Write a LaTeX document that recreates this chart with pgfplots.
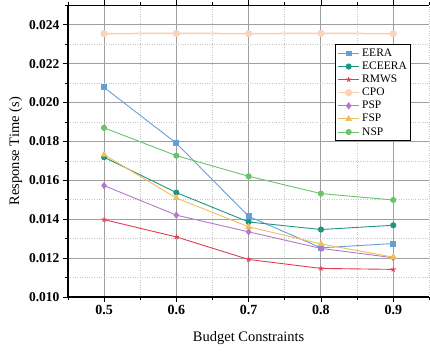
\documentclass[border=0pt]{standalone}
\usepackage{pgfplots}
\pgfplotsset{compat=1.18}
\usepackage{fontspec}
\setmainfont{Liberation Serif}
\definecolor{cEERA}{RGB}{100,160,215}
\definecolor{cECE}{RGB}{30,150,130}
\definecolor{cRM}{RGB}{225,60,85}
\definecolor{cCPO}{RGB}{252,204,176}
\definecolor{cCPOm}{RGB}{253,210,185}
\definecolor{cPSP}{RGB}{180,120,200}
\definecolor{cFSP}{RGB}{240,190,90}
\definecolor{cNSP}{RGB}{105,195,105}
\begin{document}
\begin{tikzpicture}
\begin{axis}[
  name=ax,
  scale only axis, width=362pt, height=292pt,
  xmin=0.45, xmax=0.95, ymin=0.010, ymax=0.025,
  xtick={0.5,0.6,0.7,0.8,0.9},
  minor xtick={0.45,0.55,0.65,0.75,0.85,0.95},
  ytick={0.010,0.012,0.014,0.016,0.018,0.020,0.022,0.024},
  minor ytick={0.011,0.013,0.015,0.017,0.019,0.021,0.023,0.025},
  axis x line*=box, axis y line*=left,
  tick align=outside,
  major tick length=5pt, minor tick length=3pt,
  every tick/.style={black, line width=0.8pt},
  axis line style={line width=1.2pt, -},
  grid=both,
  major grid style={gray!75, line width=1pt},
  minor grid style={gray!45, dotted, line width=0.7pt},
  /pgf/number format/assume math mode=true,
  xticklabel style={font=\fontsize{14}{14}\selectfont\bfseries, /pgf/number format/.cd, fixed, precision=1},
  yticklabel style={font=\fontsize{13.5}{13.5}\selectfont\bfseries, /pgf/number format/.cd, fixed, fixed zerofill, precision=3},
  scaled y ticks=false,
  xlabel={Budget Constraints}, ylabel={Response Time (s)},
  label style={font=\fontsize{14.5}{14.5}\selectfont},
  xlabel style={yshift=-10pt},
  legend style={at={(0.95,0.866)}, anchor=north east, draw=black, line width=0.9pt, font=\fontsize{11.5}{13}\selectfont, row sep=0pt, inner sep=2pt},
  legend cell align=left,
  legend image code/.code={\draw[mark repeat=2,mark phase=2,#1] plot coordinates {(0cm,0cm) (0.38cm,0cm) (0.76cm,0cm)};},
  every axis plot/.append style={line width=0.9pt},
]
\addplot[cEERA, mark=square*, mark size=2.5pt] coordinates {(0.5,0.02078) (0.6,0.01791) (0.7,0.01415) (0.8,0.01253) (0.9,0.01275)};
\addlegendentry{EERA}
\addplot[cECE, mark=*, mark size=2.6pt] coordinates {(0.5,0.01719) (0.6,0.01537) (0.7,0.01386) (0.8,0.01347) (0.9,0.01369)};
\addlegendentry{ECEERA}
\addplot[cRM, mark=star, mark size=2.6pt] coordinates {(0.5,0.01398) (0.6,0.01309) (0.7,0.01193) (0.8,0.01147) (0.9,0.01142)};
\addlegendentry{RMWS}
\addplot[draw=cCPO, line width=1.5pt, mark=*, mark size=3.3pt, mark options={draw=cCPOm, fill=cCPOm, line width=0.5pt}] coordinates {(0.5,0.02355) (0.6,0.02356) (0.7,0.02355) (0.8,0.02356) (0.9,0.02355)};
\addlegendentry{CPO}
\addplot[cPSP, mark=diamond*, mark size=3pt] coordinates {(0.5,0.01573) (0.6,0.01421) (0.7,0.01335) (0.8,0.01250) (0.9,0.01202)};
\addlegendentry{PSP}
\addplot[cFSP, mark=triangle*, mark size=3pt] coordinates {(0.5,0.01732) (0.6,0.01509) (0.7,0.01361) (0.8,0.01273) (0.9,0.01205)};
\addlegendentry{FSP}
\addplot[cNSP, mark=*, mark size=2.6pt] coordinates {(0.5,0.01870) (0.6,0.01727) (0.7,0.01621) (0.8,0.01532) (0.9,0.01499)};
\addlegendentry{NSP}
\end{axis}
\path ([xshift=-68pt,yshift=4pt]ax.north west) ([yshift=-62pt]ax.south east);
\end{tikzpicture}
\end{document}
